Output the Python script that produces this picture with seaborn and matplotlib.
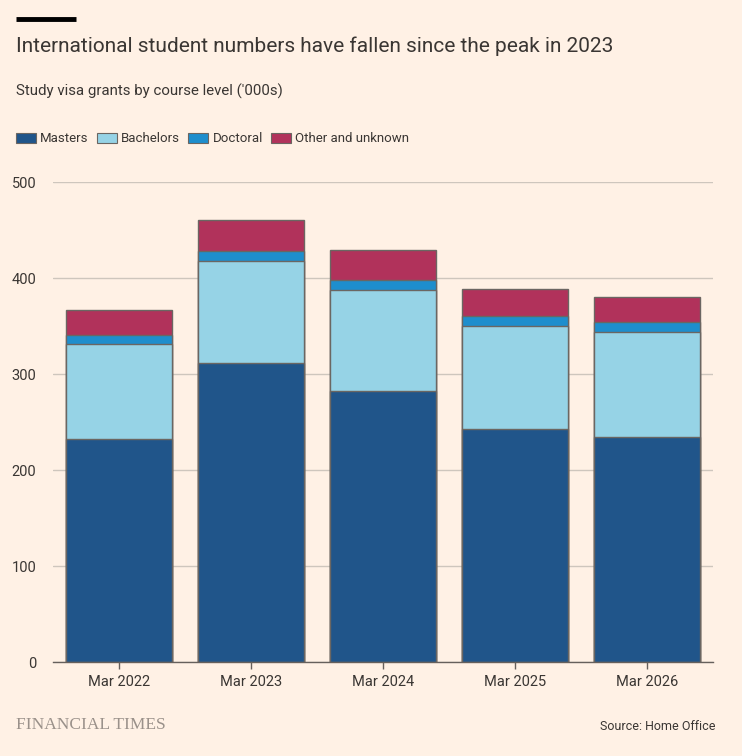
import pandas as pd
import seaborn as sns
import matplotlib.pyplot as plt
from matplotlib.patches import Patch

# study visa grants by course level ('000s)
years = ['Mar 2022', 'Mar 2023', 'Mar 2024', 'Mar 2025', 'Mar 2026']
masters = [232, 311, 282, 243, 234]
bachelors = [99, 107, 106, 107, 110]
doctoral = [10, 10, 10, 10, 10]
other = [26, 32, 31, 29, 26]

levels = ['Masters', 'Bachelors', 'Doctoral', 'Other and unknown']
colours = ['#20558a', '#96d3e6', '#1e8ecd', '#b1325b']

BG = '#fff1e5'
TXT = '#3a3633'

sns.set_theme(style='white')
plt.rcParams['font.family'] = ['Roboto', 'DejaVu Sans']

df = pd.DataFrame({'year': years, 'Masters': masters, 'Bachelors': bachelors,
                   'Doctoral': doctoral, 'Other and unknown': other})

fig = plt.figure(figsize=(7.42, 7.56), dpi=100, facecolor=BG)
ax = fig.add_axes([53 / 742, 1 - 662 / 756, 660 / 742, 480 / 756], facecolor=BG)

# stacked bars: draw cumulative totals from the top level down
cum = df[levels].cumsum(axis=1)
for lvl, col in reversed(list(zip(levels, colours))):
    sns.barplot(data=cum.assign(year=df['year']), x='year', y=lvl, color=col,
                width=0.8, edgecolor='#6b6662', linewidth=1.0, ax=ax,
                saturation=1, zorder=3)

ax.set_ylim(0, 500)
ax.set_xlim(-0.5, 4.5)
ax.set_yticks([0, 100, 200, 300, 400, 500])
ax.yaxis.grid(True, color='#cec6bd', linewidth=1, zorder=0)
ax.set_axisbelow(True)
for s in ['top', 'right', 'left']:
    ax.spines[s].set_visible(False)
ax.spines['bottom'].set_color('#66605c')
ax.spines['bottom'].set_linewidth(1)
ax.spines['bottom'].set_zorder(4)
ax.set_xlabel('')
ax.set_ylabel('')
ax.tick_params(axis='y', length=0, pad=12, labelsize=10.5, labelcolor=TXT)
ax.tick_params(axis='x', length=5, width=1, color='#66605c', pad=4,
               labelsize=10.5, labelcolor=TXT, bottom=True)

# header
fig.add_artist(plt.Line2D([16 / 742, 76 / 742], [1 - 19 / 756] * 2,
                          color='black', linewidth=3.5, solid_capstyle='butt'))
fig.text(16 / 742, 1 - 46 / 756, 'International student numbers have fallen since the peak in 2023',
         fontsize=15, color=TXT, va='center', ha='left')
fig.text(16 / 742, 1 - 91 / 756, "Study visa grants by course level ('000s)",
         fontsize=10.8, color=TXT, va='center', ha='left')

handles = [Patch(facecolor=c, edgecolor='#6b6662', linewidth=0.8, label=l)
           for l, c in zip(levels, colours)]
fig.legend(handles=handles, loc='center left', bbox_to_anchor=(4 / 742, 1 - 139 / 756),
           ncol=4, frameon=False, handlelength=1.55, handleheight=0.8,
           handletextpad=0.3, columnspacing=0.6, fontsize=9.5,
           labelcolor=TXT)

# footer
fig.text(16 / 742, 1 - 725 / 756, 'FINANCIAL TIMES', fontsize=12.5, color='#9a918a',
         family=['Liberation Serif', 'DejaVu Serif'], va='center', ha='left')
fig.text(716 / 742, 1 - 727 / 756, 'Source: Home Office', fontsize=9, color=TXT,
         va='center', ha='right')

fig.savefig('out.png', dpi=100, facecolor=BG)
